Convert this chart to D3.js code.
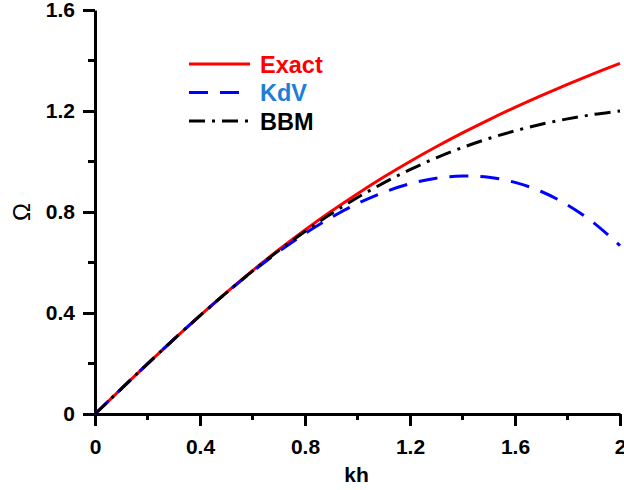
<!DOCTYPE html>
<html>
<head>
<meta charset="utf-8">
<style>
  body { margin: 0; background: #fff; }
  svg { display: block; font-family: Arial, "Liberation Sans", sans-serif; }
  .tick text { font-size: 21px; font-weight: bold; fill: #000; }
</style>
</head>
<body>
<svg id="chart" width="624" height="490"></svg>
<script src="https://d3js.org/d3.v7.min.js"></script>
<script>
// values
const kh = [0, 0.1, 0.2, 0.3, 0.4, 0.5, 0.6, 0.7, 0.8, 0.9, 1.0,
            1.1, 1.2, 1.3, 1.4, 1.5, 1.6, 1.7, 1.8, 1.9, 2.0];
const exact = [0, 0.0998, 0.1987, 0.2956, 0.3899, 0.4807, 0.5677, 0.6504, 0.7289, 0.8029, 0.8727,
               0.9384, 1.0002, 1.0584, 1.1133, 1.1652, 1.2144, 1.2610, 1.3055, 1.3479, 1.3886];
const kdv = [0, 0.0998, 0.1987, 0.2955, 0.3893, 0.4792, 0.5640, 0.6428, 0.7147, 0.7785, 0.8333,
             0.8782, 0.9120, 0.9338, 0.9427, 0.9375, 0.9173, 0.8812, 0.8280, 0.7568, 0.6667];
const bbm = [0, 0.0998, 0.1987, 0.2956, 0.3896, 0.4800, 0.5660, 0.6472, 0.7229, 0.7930, 0.8571,
             0.9154, 0.9677, 1.0143, 1.0553, 1.0909, 1.1215, 1.1474, 1.1688, 1.1863, 1.2000];
const xTicks = [0, 0.4, 0.8, 1.2, 1.6, 2];
const yTicks = [0, 0.4, 0.8, 1.2, 1.6];
const series = [
  {name: "Exact", values: exact, color: "#ff0000", text: "#ff0000", dash: null},
  {name: "KdV", values: kdv, color: "#0000ff", text: "#1f7ed6", dash: "19,12"},
  {name: "BBM", values: bbm, color: "#000000", text: "#000000", dash: "16,7,3,7"}
];

const svg = d3.select("#chart");
const x = d3.scaleLinear().domain([0, 2]).range([95, 620]);
const y = d3.scaleLinear().domain([0, 1.6]).range([414, 10]);

const fmt = d => d === 0 ? "0" : d === 2 ? "2" : d3.format(".1f")(d);

// minor ticks
const xMinor = d3.range(0.2, 2, 0.4);
const yMinor = d3.range(0.2, 1.6, 0.4);

const xAxis = svg.append("g").attr("transform", `translate(0,${y(0)})`)
  .call(d3.axisBottom(x).tickValues(xTicks).tickFormat(fmt).tickSize(12).tickPadding(13).tickSizeOuter(0));
const yAxis = svg.append("g").attr("transform", `translate(${x(0)},0)`)
  .call(d3.axisLeft(y).tickValues(yTicks).tickFormat(fmt).tickSize(12).tickPadding(8).tickSizeOuter(0));

[xAxis, yAxis].forEach(g => {
  g.select(".domain").attr("stroke", "#000").attr("stroke-width", 3);
  g.selectAll(".tick line").attr("stroke", "#000").attr("stroke-width", 3);
});

svg.append("g").selectAll("line").data(xMinor).join("line")
  .attr("x1", d => x(d)).attr("x2", d => x(d))
  .attr("y1", y(0)).attr("y2", y(0) + 6)
  .attr("stroke", "#000").attr("stroke-width", 3);
svg.append("g").selectAll("line").data(yMinor).join("line")
  .attr("x1", x(0)).attr("x2", x(0) - 7)
  .attr("y1", d => y(d)).attr("y2", d => y(d))
  .attr("stroke", "#000").attr("stroke-width", 3);

// curves
const line = d3.line().curve(d3.curveCatmullRom)
  .x((d, i) => x(kh[i])).y(d => y(d));

series.forEach(s => {
  svg.append("path")
    .attr("d", line(s.values))
    .attr("fill", "none")
    .attr("stroke", s.color)
    .attr("stroke-width", 3)
    .attr("stroke-dasharray", s.dash);
});

// axis titles
svg.append("text")
  .attr("x", x(1) - 1).attr("y", 482)
  .attr("text-anchor", "middle")
  .attr("font-size", 21).attr("font-weight", "bold")
  .text("kh");
svg.append("text")
  .attr("transform", `translate(30,${y(0.8)}) rotate(-90)`)
  .attr("text-anchor", "middle")
  .attr("font-size", 24)
  .attr("font-family", "'Liberation Sans', Arial, sans-serif")
  .text("Ω");

// legend
const legend = svg.append("g");
series.forEach((s, i) => {
  const ly = 64 + i * 28.5;
  legend.append("line")
    .attr("x1", 189).attr("x2", 250)
    .attr("y1", ly).attr("y2", ly)
    .attr("stroke", s.color).attr("stroke-width", 3)
    .attr("stroke-dasharray", s.dash);
  legend.append("text")
    .attr("x", 260).attr("y", ly + 8.5)
    .attr("font-size", 23.5).attr("font-weight", "bold")
    .attr("fill", s.text)
    .text(s.name);
});
</script>
</body>
</html>
